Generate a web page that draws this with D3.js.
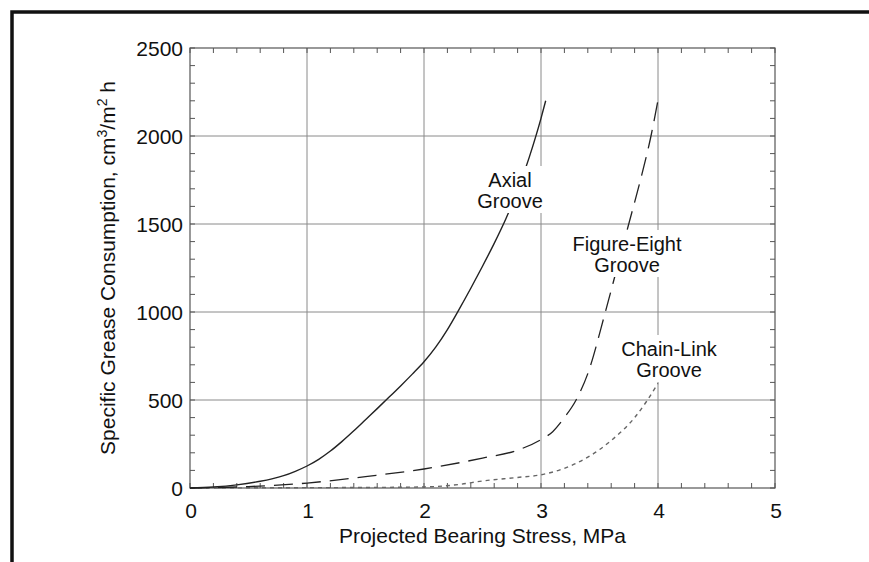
<!DOCTYPE html>
<html>
<head>
<meta charset="utf-8">
<script src="https://cdn.jsdelivr.net/npm/d3@7"></script>
<style>
  html, body { margin: 0; padding: 0; background: #fff; }
  svg { display: block; font-family: "Liberation Sans", Arial, Helvetica, sans-serif; }
</style>
</head>
<body>
<svg id="chart" width="869" height="562"></svg>
<script>
// values
const axialStress = [0, 0.2, 0.4, 0.6, 0.7, 0.8, 0.9, 1.0, 1.1, 1.2, 1.3, 1.4, 1.5, 1.6, 1.7, 1.8, 1.9, 2.0,
  2.1, 2.2, 2.3, 2.4, 2.5, 2.6, 2.7, 2.8, 2.9, 3.0, 3.04];
const axialFlow = [0, 6, 18, 38, 52, 70, 95, 125, 163, 210, 265, 325, 388, 451, 515, 580, 647, 717,
  800, 900, 1015, 1135, 1260, 1390, 1530, 1690, 1880, 2100, 2200];

const eightStress = [0, 0.5, 1.0, 1.5, 2.0, 2.5, 2.8, 3.0, 3.1, 3.2, 3.3, 3.4, 3.55, 3.65, 3.75, 3.85, 3.94, 4.01];
const eightFlow = [0, 8, 28, 65, 108, 170, 215, 275, 320, 400, 500, 650, 1000, 1250, 1500, 1750, 2000, 2240];

const chainStress = [0, 1.0, 1.5, 2.0, 2.3, 2.5, 2.8, 3.0, 3.2, 3.4, 3.6, 3.8, 3.9, 4.0];
const chainFlow = [0, 2, 3, 6, 20, 40, 60, 75, 112, 175, 270, 400, 490, 595];

const xTicks = [0, 1, 2, 3, 4, 5];
const yTicks = [0, 500, 1000, 1500, 2000, 2500];

const xTitle = 'Projected Bearing Stress, MPa';

const svg = d3.select('#chart');
const plot = { left: 190, right: 775, top: 48, bottom: 488 };

const x = d3.scaleLinear().domain([0, 5]).range([plot.left, plot.right]);
const y = d3.scaleLinear().domain([0, 2500]).range([plot.bottom, plot.top]);

// outer black frame (runs off the right and bottom edges)
svg.append('rect')
  .attr('x', 12).attr('y', 12)
  .attr('width', 920).attr('height', 620)
  .attr('fill', 'none')
  .attr('stroke', '#111')
  .attr('stroke-width', 3.5);

// grid
const grid = svg.append('g').attr('stroke', '#8a8a8a').attr('stroke-width', 1);
grid.selectAll('line.gx')
  .data(xTicks.slice(1, -1))
  .join('line')
  .attr('x1', (d) => x(d)).attr('x2', (d) => x(d))
  .attr('y1', plot.top).attr('y2', plot.bottom);
grid.selectAll('line.gy')
  .data(yTicks.slice(1, -1))
  .join('line')
  .attr('class', 'gy')
  .attr('x1', plot.left).attr('x2', plot.right)
  .attr('y1', (d) => y(d)).attr('y2', (d) => y(d));

// minor ticks on all four sides, pointing inward
const minorX = d3.range(0, 5.001, 0.2);
const minorY = d3.range(0, 2500.1, 100);
const ticks = svg.append('g').attr('stroke', '#555').attr('stroke-width', 1);
ticks.selectAll('line.tb')
  .data(minorX)
  .join('line')
  .attr('class', 'tb')
  .attr('x1', (d) => x(d)).attr('x2', (d) => x(d))
  .attr('y1', plot.bottom).attr('y2', plot.bottom - 5);
ticks.selectAll('line.tt')
  .data(minorX)
  .join('line')
  .attr('class', 'tt')
  .attr('x1', (d) => x(d)).attr('x2', (d) => x(d))
  .attr('y1', plot.top).attr('y2', plot.top + 5);
ticks.selectAll('line.tl')
  .data(minorY)
  .join('line')
  .attr('class', 'tl')
  .attr('x1', plot.left).attr('x2', plot.left + 5)
  .attr('y1', (d) => y(d)).attr('y2', (d) => y(d));
ticks.selectAll('line.tr')
  .data(minorY)
  .join('line')
  .attr('class', 'tr')
  .attr('x1', plot.right).attr('x2', plot.right - 5)
  .attr('y1', (d) => y(d)).attr('y2', (d) => y(d));

// plot frame
svg.append('rect')
  .attr('x', plot.left).attr('y', plot.top)
  .attr('width', plot.right - plot.left).attr('height', plot.bottom - plot.top)
  .attr('fill', 'none')
  .attr('stroke', '#555')
  .attr('stroke-width', 1.2);

// curves
const line = d3.line()
  .x((d) => x(d[0]))
  .y((d) => y(d[1]))
  .curve(d3.curveMonotoneX);

const series = [
  { stress: chainStress, flow: chainFlow, dash: '4,4', color: '#666', width: 1.4 },
  { stress: eightStress, flow: eightFlow, dash: '19,9', color: '#222', width: 1.3 },
  { stress: axialStress, flow: axialFlow, dash: null, color: '#222', width: 1.4 }
];

svg.append('g')
  .selectAll('path')
  .data(series)
  .join('path')
  .attr('d', (s) => line(d3.zip(s.stress, s.flow)))
  .attr('fill', 'none')
  .attr('stroke', (s) => s.color)
  .attr('stroke-width', (s) => s.width)
  .attr('stroke-dasharray', (s) => s.dash);

// curve labels with white backing
const labels = [
  { x: 510, lines: ['Axial', 'Groove'], y: 187 },
  { x: 627, lines: ['Figure-Eight', 'Groove'], y: 251 },
  { x: 669, lines: ['Chain-Link', 'Groove'], y: 356 }
];

const labelGroup = svg.append('g');
labels.forEach((lab) => {
  const g = labelGroup.append('g');
  const bg = g.append('rect').attr('fill', '#fff');
  const t = g.append('text')
    .attr('text-anchor', 'middle')
    .attr('font-size', 20)
    .attr('fill', '#111');
  lab.lines.forEach((txt, i) => {
    t.append('tspan')
      .attr('x', lab.x)
      .attr('y', lab.y + i * 21)
      .text(txt);
  });
  const box = t.node().getBBox();
  bg.attr('x', box.x - 3).attr('y', box.y - 3)
    .attr('width', box.width + 6).attr('height', box.height + 4);
});

// tick labels
svg.append('g')
  .selectAll('text')
  .data(yTicks)
  .join('text')
  .attr('x', 183)
  .attr('y', (d) => y(d))
  .attr('dy', '0.36em')
  .attr('text-anchor', 'end')
  .attr('font-size', 21)
  .attr('fill', '#111')
  .text((d) => d);

svg.append('g')
  .selectAll('text')
  .data(xTicks)
  .join('text')
  .attr('x', (d) => x(d) + 1)
  .attr('y', 518)
  .attr('text-anchor', 'middle')
  .attr('font-size', 21)
  .attr('fill', '#111')
  .text((d) => d);

// axis titles
svg.append('text')
  .attr('x', (plot.left + plot.right) / 2)
  .attr('y', 543)
  .attr('text-anchor', 'middle')
  .attr('font-size', 21)
  .attr('fill', '#111')
  .text(xTitle);

const yTitle = svg.append('text')
  .attr('transform', `translate(115, ${(plot.top + plot.bottom) / 2}) rotate(-90)`)
  .attr('text-anchor', 'middle')
  .attr('font-size', 21)
  .attr('fill', '#111');
yTitle.append('tspan').text('Specific Grease Consumption, cm');
yTitle.append('tspan').attr('font-size', 14).attr('dy', -8).text('3');
yTitle.append('tspan').attr('dy', 8).text('/m');
yTitle.append('tspan').attr('font-size', 14).attr('dy', -8).text('2');
yTitle.append('tspan').attr('dy', 8).text(' h');
</script>
</body>
</html>
